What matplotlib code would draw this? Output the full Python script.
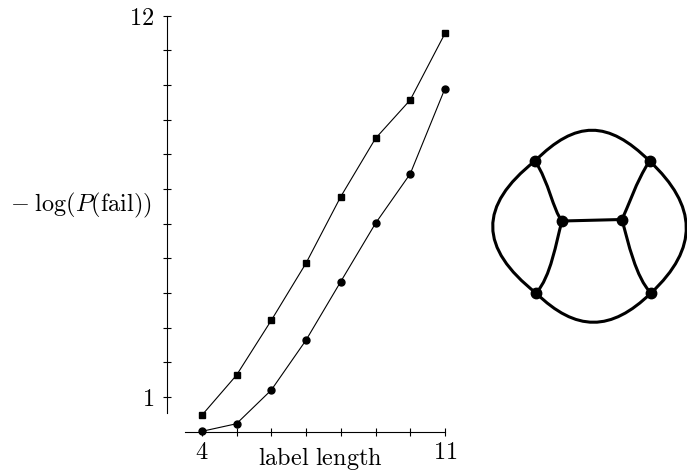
import matplotlib
matplotlib.use('Agg')
import matplotlib.pyplot as plt
from matplotlib.path import Path
from matplotlib.patches import PathPatch

plt.rcParams['mathtext.fontset'] = 'cm'
plt.rcParams['font.family'] = 'serif'
plt.rcParams['font.serif'] = ['DejaVu Serif']

# label length vs -log(P(fail))
lengths = [4, 5, 6, 7, 8, 9, 10, 11]
fail_squares = [0.47, 1.63, 3.21, 4.86, 6.78, 8.46, 9.57, 11.49]
fail_circles = [0.01, 0.23, 1.20, 2.64, 4.33, 6.01, 7.44, 9.90]

x_ticks = [4, 5, 6, 7, 8, 9, 10, 11]
x_labeled = [4, 11]
y_ticks = list(range(1, 13))
y_labeled = [1, 12]

# small graph drawn on the right (pixel coordinates)
nodes = {'a': (535, 161), 'b': (649.5, 161), 'c': (562, 221),
         'd': (622, 219.5), 'e': (536, 293), 'f': (651, 293)}
# edge: (start, end, control1, control2); None means straight
edges = [
    ('a', 'b', (576, 120), (608, 120)),
    ('a', 'e', (478, 206), (479, 248)),
    ('b', 'f', (697.5, 206), (699, 248)),
    ('e', 'f', (576, 332), (611, 332)),
    ('a', 'c', (549, 182), (553, 210)),
    ('c', 'e', (556, 242), (551, 277)),
    ('b', 'd', (636, 182), (628, 207)),
    ('d', 'f', (628, 242), (636, 278)),
    ('c', 'd', None, None),
]

fig = plt.figure(figsize=(6.87, 4.70), dpi=100)
ax = fig.add_axes([167 / 687, 38.3 / 470, 278 / 687, 416 / 470])
ax.set_xlim(3, 11)
ax.set_ylim(0, 12)

ax.plot(lengths, fail_squares, color='black', lw=0.8, marker='s',
        markersize=5, clip_on=False)
ax.plot(lengths, fail_circles, color='black', lw=0.8, marker='o',
        markersize=5, clip_on=False)

for s in ['top', 'right']:
    ax.spines[s].set_visible(False)
ax.spines['left'].set_bounds(0.54, 12)
ax.spines['bottom'].set_bounds(3.52, 11)
for s in ['left', 'bottom']:
    ax.spines[s].set_linewidth(0.8)

ax.set_xticks(x_ticks)
ax.set_xticklabels([f'${v}$' if v in x_labeled else '' for v in x_ticks])
ax.set_yticks(y_ticks)
ax.set_yticklabels([f'${v}$' if v in y_labeled else '' for v in y_ticks])
ax.tick_params(direction='inout', length=6, width=0.8, labelsize=17.5)
ax.tick_params(axis='x', pad=4)
ax.tick_params(axis='y', pad=6)
ax.patch.set_alpha(0)

fig.text(320 / 687, 1 - 459 / 470, r'$\mathrm{label\ length}$',
         fontsize=17.5, ha='center', va='center')
fig.text(81 / 687, 1 - 205 / 470, r'$-\;\log(P(\mathrm{fail}))$',
         fontsize=17.5, ha='center', va='center')

# graph overlay in pixel coords
gx = fig.add_axes([0, 0, 1, 1])
gx.set_xlim(0, 687)
gx.set_ylim(470, 0)
gx.axis('off')
gx.patch.set_alpha(0)
for u, v, c1, c2 in edges:
    p0, p3 = nodes[u], nodes[v]
    if c1 is None:
        path = Path([p0, p3], [Path.MOVETO, Path.LINETO])
    else:
        path = Path([p0, c1, c2, p3],
                    [Path.MOVETO, Path.CURVE4, Path.CURVE4, Path.CURVE4])
    gx.add_patch(PathPatch(path, fill=False, lw=2.2, edgecolor='black',
                           capstyle='round'))
gx.plot([p[0] for p in nodes.values()], [p[1] for p in nodes.values()],
        'o', color='black', markersize=7.5, linestyle='none')

fig.savefig('out.png', dpi=100)
